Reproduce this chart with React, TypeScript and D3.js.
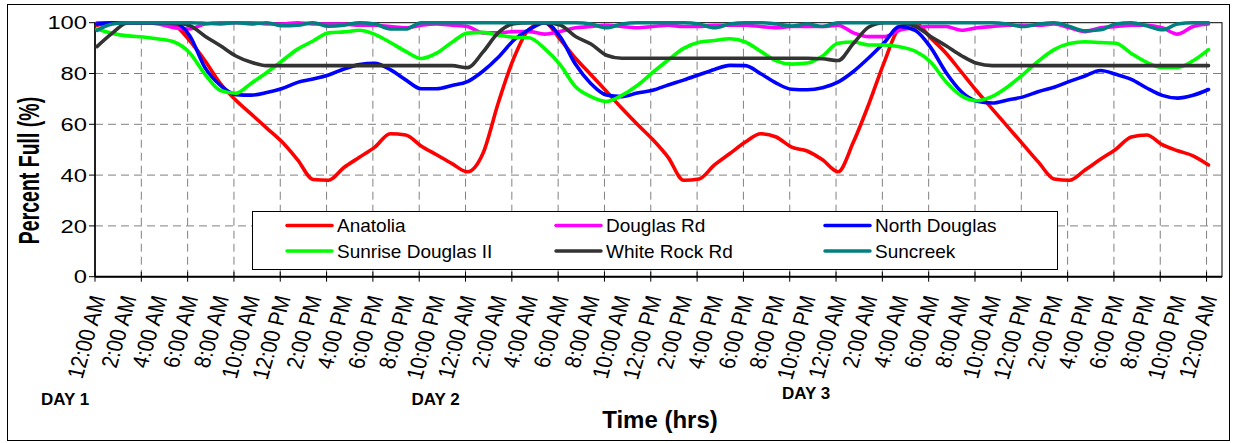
import React from "react";
import * as d3 from "d3";

const HOURS = d3.range(0, 73);
const TIME_LABELS = [
  "12:00 AM", "2:00 AM", "4:00 AM", "6:00 AM", "8:00 AM", "10:00 AM",
  "12:00 PM", "2:00 PM", "4:00 PM", "6:00 PM", "8:00 PM", "10:00 PM",
  "12:00 AM", "2:00 AM", "4:00 AM", "6:00 AM", "8:00 AM", "10:00 AM",
  "12:00 PM", "2:00 PM", "4:00 PM", "6:00 PM", "8:00 PM", "10:00 PM",
  "12:00 AM", "2:00 AM", "4:00 AM", "6:00 AM", "8:00 AM", "10:00 AM",
  "12:00 PM", "2:00 PM", "4:00 PM", "6:00 PM", "8:00 PM", "10:00 PM",
  "12:00 AM",
];
const Y_TICKS = [0, 20, 40, 60, 80, 100];
const DAY_LABELS = ["DAY 1", "DAY 2", "DAY 3"];
const SERIES_NAMES = ["Anatolia", "Douglas Rd", "North Douglas", "Sunrise Douglas II", "White Rock Rd", "Suncreek"];
const SERIES_COLORS = ["#FF0000", "#FF00FF", "#0000FF", "#00FF00", "#333333", "#008080"];

const ANATOLIA = [99, 100, 100, 100, 100, 99, 93, 85, 76, 69.5, 64, 58.5, 53, 46, 38.3, 38, 43, 47, 51, 56.3, 55.8, 51.5, 48, 44.5, 41.3, 48.5, 68.5, 86, 97.5, 100, 93.5, 86, 79.5, 73, 66.3, 60, 54, 47, 38, 38.5, 44, 48.5, 53, 56.3, 55, 51, 49.5, 46, 41.3, 53, 68, 84.5, 98, 100, 94, 88, 80.5, 73, 66, 59, 52, 45, 38.5, 38, 42, 46.2, 50.2, 55, 55.8, 52, 49.6, 47.6, 44];
const DOUGLAS_RD = [100, 100, 100, 100, 99.5, 98, 97.5, 99.5, 100, 100, 100, 99.5, 99.5, 100, 99.5, 99.5, 99.5, 99, 99, 98.5, 98, 99, 99.5, 99, 98.5, 96, 96, 96.5, 96.5, 95.5, 96.5, 98, 98.5, 99, 98.5, 98, 98.5, 99, 98.5, 98.5, 99, 99, 99, 98.5, 98, 98.5, 98.5, 98.5, 99, 96, 94.5, 94.5, 97, 98, 98.5, 98.5, 97, 98, 98.5, 99, 99, 99, 99.5, 98, 96.5, 98, 98.5, 99, 99, 98, 95.5, 98.5, 99.5];
const NORTH_DOUGLAS = [99.5, 100, 100, 100, 100, 100, 95, 82.3, 75.3, 71.7, 71.5, 72.5, 74.1, 76.5, 77.8, 79.4, 81.8, 83.5, 84, 81.5, 77.5, 74, 74, 75.3, 76.8, 80.9, 86.4, 93.1, 97.3, 100, 94.5, 83.6, 76, 71.5, 70.9, 72.3, 73.4, 75.5, 77.4, 79.5, 81.6, 83.2, 83.1, 79.9, 76.2, 73.8, 73.6, 74.4, 76.6, 80.8, 86.2, 92.2, 98.5, 97, 90.3, 80.4, 72.8, 69.1, 68.4, 69.6, 70.8, 72.9, 74.6, 76.9, 79, 81.2, 79.7, 77.7, 74.3, 71.4, 70.3, 71.4, 73.7];
const SUNRISE_DOUGLAS_II = [97.5, 95.8, 94.8, 94.4, 93.6, 92.4, 88.2, 79.7, 73.3, 72.2, 76.2, 80.4, 85, 89.6, 92.8, 96, 96.4, 97, 95.4, 92.2, 88.7, 85.9, 88, 92.3, 95.9, 96.2, 95.1, 94.3, 94.1, 89.8, 83.5, 74.8, 70.9, 69, 71.4, 75.3, 80.4, 85.3, 89.9, 92.3, 93, 93.7, 92.4, 88.7, 85, 83.7, 84.1, 86.9, 91.9, 92.4, 91.2, 91.2, 90.5, 88.8, 84.5, 76.7, 71.2, 69.3, 71, 74.8, 79.7, 85, 89.4, 91.8, 92.5, 92.2, 91.9, 87.9, 84.4, 82.4, 82.4, 85, 89.4];
const WHITE_ROCK_RD = [90.6, 95.9, 100, 100, 100, 100, 98.9, 94.7, 90.9, 86.9, 84.4, 83.1, 83.1, 83.1, 83.1, 83.1, 83.1, 83.1, 83.1, 83.1, 83.1, 83.1, 83.1, 83.1, 82.3, 88.4, 96.1, 99.6, 100, 100, 99.1, 94.6, 91.6, 87.2, 86, 86, 86, 86, 86, 86, 86, 86, 86, 86, 86, 86, 86, 85.8, 85.1, 91.8, 98.3, 100, 100, 98.7, 94.6, 90.9, 87, 84, 83.1, 83.1, 83.1, 83.1, 83.1, 83.1, 83.1, 83.1, 83.1, 83.1, 83.1, 83.1, 83.1, 83.1, 83.1];
const SUNCREEK = [97, 99.5, 100, 100, 100, 100, 100, 99.8, 99.5, 100, 99.5, 100, 98.8, 99, 100, 98.6, 99, 100, 99.5, 97.5, 97.5, 100, 100, 100, 100, 100, 100, 100, 100, 100, 100, 100, 99.5, 98, 99.5, 100, 100, 100, 100, 99.5, 98, 99.5, 100, 100, 99.5, 98.7, 99.5, 98.5, 100, 100, 100, 100, 100, 100, 100, 100, 100, 100, 100, 99.5, 98.5, 99.5, 100, 98.5, 96.8, 97.2, 99.5, 100, 98.8, 97.2, 99.5, 100, 100];

const SERIES_VALUES = [ANATOLIA, DOUGLAS_RD, NORTH_DOUGLAS, SUNRISE_DOUGLAS_II, WHITE_ROCK_RD, SUNCREEK];

const FONT = "'Liberation Sans', Arial, Helvetica, sans-serif";

export default function App() {
  const W = 1235;
  const H = 443;
  const left = 95;
  const right = 1222;
  const top = 22.7;
  const bottom = 276.7;

  const x = d3.scaleLinear().domain([-0.125, 72.875]).range([left, right]);
  const y = d3.scaleLinear().domain([0, 100]).range([bottom, top]);

  const tickHours = d3.range(0, 25).map((k) => 3 * k - 0.125);

  const line = d3
    .line<number>()
    .x((_, i) => x(HOURS[i]))
    .y((d) => y(d))
    .curve(d3.curveMonotoneX);

  const legendX = 252.5;
  const legendY = 211.5;
  const legendW = 805;
  const legendH = 58;
  const colW = 269;
  const rowYs = [225.5, 251];

  return (
    <svg
      width={W}
      height={H}
      style={{ position: "absolute", left: 0, top: 0, background: "#fff" }}
      fontFamily={FONT}
    >
      <rect x={7.5} y={4.5} width={1222} height={436} fill="#fff" stroke="#000" strokeWidth={1} />

      {/* horizontal gridlines */}
      {Y_TICKS.filter((t) => t > 0 && t < 100).map((t) => (
        <line key={"hg" + t} x1={left} x2={right} y1={y(t)} y2={y(t)} stroke="#808080" strokeWidth={1} strokeDasharray="8,5" />
      ))}
      {/* vertical gridlines */}
      {tickHours.slice(1).map((h) => (
        <line key={"vg" + h} x1={x(h)} x2={x(h)} y1={top} y2={bottom} stroke="#808080" strokeWidth={1} strokeDasharray="8,5" />
      ))}

      {/* plot frame */}
      <rect x={left} y={top} width={right - left} height={bottom - top} fill="none" stroke="#000" strokeWidth={1} />
      <line x1={left} x2={left} y1={top} y2={bottom} stroke="#000" strokeWidth={1.5} />
      <line x1={left} x2={right} y1={bottom} y2={bottom} stroke="#000" strokeWidth={2} />

      {/* y ticks */}
      {Y_TICKS.map((t) => (
        <g key={"yt" + t}>
          <line x1={left - 6} x2={left} y1={y(t)} y2={y(t)} stroke="#000" strokeWidth={1} />
          <text transform={`translate(87,${y(t)}) scale(1.25,1)`} textAnchor="end" dy="0.35em" fontSize={19} fill="#000">
            {t}
          </text>
        </g>
      ))}

      {/* x ticks */}
      {tickHours.map((h) => (
        <line key={"xt" + h} x1={x(h)} x2={x(h)} y1={bottom - 5} y2={bottom + 5} stroke="#000" strokeWidth={1} />
      ))}

      {/* x labels */}
      {TIME_LABELS.map((lab, i) => (
        <text
          key={"xl" + i}
          transform={`translate(${x(i * 2) + 1},296) scale(1.15,1) rotate(-76)`}
          textAnchor="end"
          dy="0.35em"
          fontSize={20}
          fill="#000"
        >
          {lab}
        </text>
      ))}

      {/* legend */}
      <rect x={legendX} y={legendY} width={legendW} height={legendH} fill="#fff" stroke="#000" strokeWidth={1} />
      {SERIES_NAMES.map((name, i) => {
        const col = i % 3;
        const row = Math.floor(i / 3);
        const lx = 287 + col * colW;
        const ly = rowYs[row];
        return (
          <g key={"lg" + i}>
            <line x1={lx} x2={lx + 45} y1={ly} y2={ly} stroke={SERIES_COLORS[i]} strokeWidth={3.5} strokeLinecap="round" />
            <text x={lx + 50} y={ly} dy="0.35em" fontSize={19} fill="#000">
              {name}
            </text>
          </g>
        );
      })}

      {/* series */}
      {SERIES_VALUES.map((vals, i) => (
        <path
          key={"s" + i}
          d={line(vals) || ""}
          fill="none"
          stroke={SERIES_COLORS[i]}
          strokeWidth={3.6}
          strokeLinejoin="round"
          strokeLinecap="round"
        />
      ))}

      {/* axis titles */}
      <text
        transform={`translate(39,170.5) scale(1.5,1) rotate(-90)`}
        textAnchor="middle"
        fontSize={19.5}
        fontWeight="bold"
        fill="#000"
      >
        Percent Full (%)
      </text>
      <text x={660} y={428} textAnchor="middle" fontSize={24} fontWeight="bold" fill="#000">
        Time (hrs)
      </text>
      {DAY_LABELS.map((d, i) => (
        <text key={d} x={x(i * 24) - 56} y={i === 2 ? 399 : 405} fontSize={17} fontWeight="bold" fill="#000">
          {d}
        </text>
      ))}
    </svg>
  );
}
